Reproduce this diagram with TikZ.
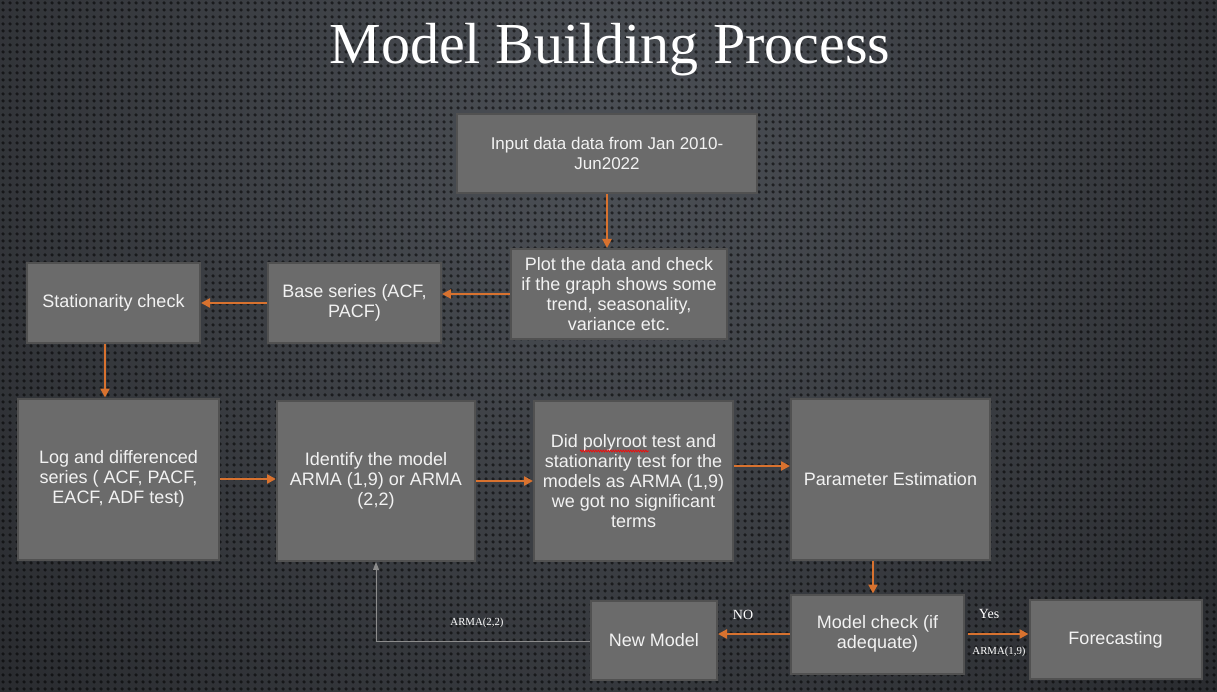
\documentclass[tikz,border=0pt]{standalone}
\usepackage{fontspec}
\setmainfont{Liberation Sans}
\newfontfamily\titlefont{Liberation Serif}
\usetikzlibrary{arrows.meta,patterns.meta,decorations.pathmorphing}
\definecolor{bgdark}{HTML}{2A2C30}
\definecolor{bglight}{HTML}{4C5056}
\definecolor{boxfill}{HTML}{6B6B6B}
\definecolor{boxline}{HTML}{515151}
\definecolor{arrorange}{HTML}{D8722F}
\definecolor{txt}{HTML}{F2F2F2}
\definecolor{grayline}{HTML}{8C8C8C}
\pgfdeclarepattern{
  name=bgdots,
  type=uncolored,
  bottom left={\pgfpoint{0pt}{0pt}},
  top right={\pgfpoint{6.5pt}{6.5pt}},
  tile size={\pgfpoint{6.5pt}{6.5pt}},
  code={\pgfpathcircle{\pgfpoint{3.25pt}{3.25pt}}{1.9pt}\pgfusepath{fill}}
}
\tikzset{
  box/.style={draw=boxline, line width=2pt, fill=boxfill, text=txt, align=center,
    inner sep=0pt, font=\fontsize{18}{20}\selectfont},
  oarrow/.style={draw=arrorange, line width=2.6pt, -{Triangle[length=9pt,width=9pt]}},
  garrow/.style={draw=grayline, line width=1pt, -{Triangle[length=8pt,width=6pt]}},
  lbl/.style={text=white, inner sep=0pt},
}
\begin{document}
\begin{tikzpicture}[x=1pt,y=-1pt]
\useasboundingbox (0,0) rectangle (1217,692);
\fill[bgdark] (0,0) rectangle (1217,692);
\begin{scope}
  \clip (0,0) rectangle (1217,692);
  \shade[inner color=bglight, outer color=bgdark] (608,150) circle (800);
  \fill[pattern=bgdots, pattern color=black, opacity=0.55] (0,0) rectangle (1217,692);
\end{scope}

\node[text=white, font=\titlefont\fontsize{58}{62}\selectfont, inner sep=0pt] (title) at (610,50) {Model Building Process};

\node[box, minimum width=300pt, minimum height=79pt, font=\fontsize{17}{20}\selectfont] (input) at (607,153.5) {Input data data from Jan 2010-\\Jun2022};
\node[box, minimum width=216pt, minimum height=90pt] (plot) at (619,294) {Plot the data and check\\if the graph shows some\\trend, seasonality,\\variance etc.};
\node[box, minimum width=173pt, minimum height=80pt] (base) at (354.5,303) {Base series (ACF,\\PACF)};
\node[box, minimum width=173pt, minimum height=80pt] (stat) at (113.5,303) {Stationarity check};
\node[box, minimum width=201pt, minimum height=161pt] (log) at (118.5,479) {Log and differenced\\series ( ACF, PACF,\\EACF, ADF test)};
\node[box, minimum width=198pt, minimum height=160pt] (ident) at (376,481) {Identify the model\\ARMA (1,9) or ARMA\\(2,2)};
\node[box, minimum width=199pt, minimum height=160pt] (did) at (633.5,481) {Did polyroot test and\\stationarity test for the\\models as ARMA (1,9)\\we got no significant\\terms};
\node[box, minimum width=199pt, minimum height=161pt] (param) at (890.5,479) {Parameter Estimation};
\node[box, minimum width=126pt, minimum height=79pt] (newm) at (654,640) {New Model};
\node[box, minimum width=173pt, minimum height=79pt] (check) at (877.5,634) {Model check (if\\adequate)};
\node[box, minimum width=172pt, minimum height=79pt] (fore) at (1115.5,639.5) {Forecasting};

\draw[red, line width=0.6pt, decorate, decoration={snake, amplitude=1pt, segment length=2.5pt}] (580,451) -- (649,451);

\draw[oarrow] (input.south) -- (input.south |- plot.north);
\draw[oarrow] (plot.west) -- (plot.west -| base.east);
\draw[oarrow] (base.west) -- (stat.east);
\draw[oarrow] ([xshift=-8.5pt]stat.south) -- ([xshift=-8.5pt]stat.south |- log.north);
\draw[oarrow] (log.east) -- (log.east -| ident.west);
\draw[oarrow] (ident.east) -- (did.west);
\draw[oarrow] ([yshift=15pt]did.east) -- ([yshift=15pt]did.east -| param.west);
\draw[oarrow] ([xshift=-17.5pt]param.south) -- ([xshift=-17.5pt]param.south |- check.north);
\draw[oarrow] (check.west) -- (check.west -| newm.east);
\draw[oarrow, shorten <=3pt] (check.east) -- (check.east -| fore.west);
\draw[garrow] ([yshift=-1pt]newm.west) -| (ident.south);

\node[lbl, font=\titlefont\fontsize{14}{16}\selectfont] (no) at (743,615) {NO};
\node[lbl, font=\titlefont\fontsize{14}{16}\selectfont] (yes) at (989,614) {Yes};
\node[lbl, font=\titlefont\fontsize{10.8}{13}\selectfont] (arma19) at (999,652) {ARMA(1,9)};
\node[lbl, font=\titlefont\fontsize{10.8}{13}\selectfont] (arma22) at (477,623) {ARMA(2,2)};
\end{tikzpicture}
\end{document}
